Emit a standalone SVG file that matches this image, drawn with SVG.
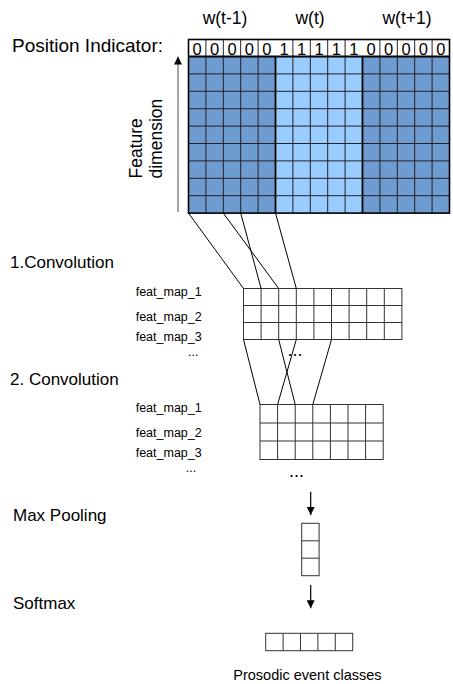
<svg xmlns="http://www.w3.org/2000/svg" width="453" height="684" viewBox="0 0 453 684">
<style>
text{font-family:"Liberation Sans",Arial,sans-serif;fill:#000}
.lbl{font-size:17px}
.fm{font-size:12.5px}
.dig{font-size:16.5px;text-anchor:middle}
.dk{fill:#6e9bd0}
.lt{fill:#99ccff}
.gl{stroke:#222;stroke-width:1;fill:none}
.thick{stroke:#000;stroke-width:1.8;fill:none}
.cell{stroke:#333;stroke-width:1;fill:none}
.conn{stroke:#000;stroke-width:1;fill:none}
</style>
<defs>
<marker id="ah" markerWidth="8" markerHeight="8" refX="8" refY="4" orient="auto" markerUnits="userSpaceOnUse">
<path d="M0,0 L8,4 L0,8 z" fill="#000"/>
</marker>
</defs>

<g id="titles">
<text class="lbl" x="12" y="51.5" style="font-size:19px">Position Indicator:</text>
<text class="lbl" x="225" y="24" text-anchor="middle" style="font-size:17.5px">w(t-1)</text>
<text class="lbl" x="310" y="24" text-anchor="middle" style="font-size:17.5px">w(t)</text>
<text class="lbl" x="407" y="24" text-anchor="middle" style="font-size:17.5px">w(t+1)</text>
<text x="141.7" y="178.5" transform="rotate(-90 141.7 178.5)" style="font-size:17.5px">Feature</text>
<text x="162" y="178.5" transform="rotate(-90 162 178.5)" style="font-size:17.5px">dimension</text>
<text class="lbl" x="10" y="268">1.Convolution</text>
<text class="lbl" x="10" y="385">2. Convolution</text>
<text class="lbl" x="13" y="521">Max Pooling</text>
<text class="lbl" x="13" y="609">Softmax</text>
</g>

<g id="input-grid">
<rect x="188.5" y="39.5" width="261" height="17" fill="#fff"/>
<rect class="dk" x="188.5" y="56.5" width="87" height="156.6"/>
<rect class="lt" x="275.5" y="56.5" width="87" height="156.6"/>
<rect class="dk" x="362.5" y="56.5" width="87" height="156.6"/>
<path class="gl" d="M205.9,39.5V213.1M223.3,39.5V213.1M240.7,39.5V213.1M258.1,39.5V213.1M292.9,39.5V213.1M310.3,39.5V213.1M327.7,39.5V213.1M345.1,39.5V213.1M379.9,39.5V213.1M397.3,39.5V213.1M414.7,39.5V213.1M432.1,39.5V213.1"/>
<path class="gl" d="M188.5,73.9H449.5M188.5,91.3H449.5M188.5,108.7H449.5M188.5,126.1H449.5M188.5,143.5H449.5M188.5,160.9H449.5M188.5,178.3H449.5M188.5,195.7H449.5"/>
<path class="thick" d="M275.5,56.5V213.1M362.5,56.5V213.1M188.5,56.5H449.5"/>
<rect x="188.5" y="39.5" width="261" height="173.6" fill="none" stroke="#000" stroke-width="1.6"/>
<g class="digits">
<text class="dig" x="197.2" y="55">0</text>
<text class="dig" x="214.6" y="55">0</text>
<text class="dig" x="232" y="55">0</text>
<text class="dig" x="249.4" y="55">0</text>
<text class="dig" x="266.8" y="55">0</text>
<text class="dig" x="284.2" y="55">1</text>
<text class="dig" x="301.6" y="55">1</text>
<text class="dig" x="319" y="55">1</text>
<text class="dig" x="336.4" y="55">1</text>
<text class="dig" x="353.8" y="55">1</text>
<text class="dig" x="371.2" y="55">0</text>
<text class="dig" x="388.6" y="55">0</text>
<text class="dig" x="406" y="55">0</text>
<text class="dig" x="423.4" y="55">0</text>
<text class="dig" x="440.8" y="55">0</text>
</g>
</g>

<g id="conv1">
<rect x="243.5" y="288.5" width="158.4" height="51" fill="#fff" stroke="#333" stroke-width="1"/>
<path class="cell" d="M261.1,288.5V339.5M278.7,288.5V339.5M296.3,288.5V339.5M313.9,288.5V339.5M331.5,288.5V339.5M349.1,288.5V339.5M366.7,288.5V339.5M384.3,288.5V339.5M243.5,305.5H401.9M243.5,322.5H401.9"/>
<text class="fm" x="135.7" y="296">feat_map_1</text>
<text class="fm" x="135.7" y="320.5">feat_map_2</text>
<text class="fm" x="135.7" y="341">feat_map_3</text>
<text class="fm" x="188" y="355.5">...</text>
<text x="287.5" y="355.5" style="font-size:18px">...</text>
</g>

<g id="conv2">
<rect x="260" y="404.5" width="123.2" height="55" fill="#fff" stroke="#333" stroke-width="1"/>
<path class="cell" d="M277.6,404.5V459.5M295.2,404.5V459.5M312.8,404.5V459.5M330.4,404.5V459.5M348,404.5V459.5M365.6,404.5V459.5M260,423H383.2M260,441H383.2"/>
<text class="fm" x="135.7" y="411.5">feat_map_1</text>
<text class="fm" x="135.7" y="436.5">feat_map_2</text>
<text class="fm" x="135.7" y="457.3">feat_map_3</text>
<text class="fm" x="185.7" y="472">...</text>
<text x="289" y="476.5" style="font-size:18px">...</text>
</g>

<g id="maxpool">
<rect x="301.7" y="523.3" width="17.4" height="52.4" fill="#fff" stroke="#333" stroke-width="1"/>
<path class="cell" d="M301.7,540.8H319.1M301.7,558.2H319.1"/>
</g>

<g id="softmax">
<rect x="265.7" y="633.3" width="87" height="17.4" fill="#fff" stroke="#333" stroke-width="1"/>
<path class="cell" d="M283.1,633.3V650.7M300.5,633.3V650.7M317.9,633.3V650.7M335.3,633.3V650.7"/>
<text x="233.3" y="680" style="font-size:14.5px">Prosodic event classes</text>
</g>

<g id="connectors">
<line x1="178" y1="212" x2="178" y2="56.5" stroke="#888" stroke-width="1.5" marker-end="url(#ah)"/>
<path class="conn" d="M188.5,213.1L243.5,288.5M223.3,213.1L278.7,288.5M240.7,213.1L261.1,288.5M275.5,213.1L296.3,288.5"/>
<path class="conn" d="M243.5,339.5L260,404.5M278.7,339.5L295.2,404.5M296.3,339.5L277.6,404.5M331.5,339.5L312.8,404.5"/>
<line x1="310.7" y1="491.7" x2="310.7" y2="515" stroke="#000" stroke-width="1.2" marker-end="url(#ah)"/>
<line x1="310.7" y1="585" x2="310.7" y2="608.3" stroke="#000" stroke-width="1.2" marker-end="url(#ah)"/>
</g>
</svg>
